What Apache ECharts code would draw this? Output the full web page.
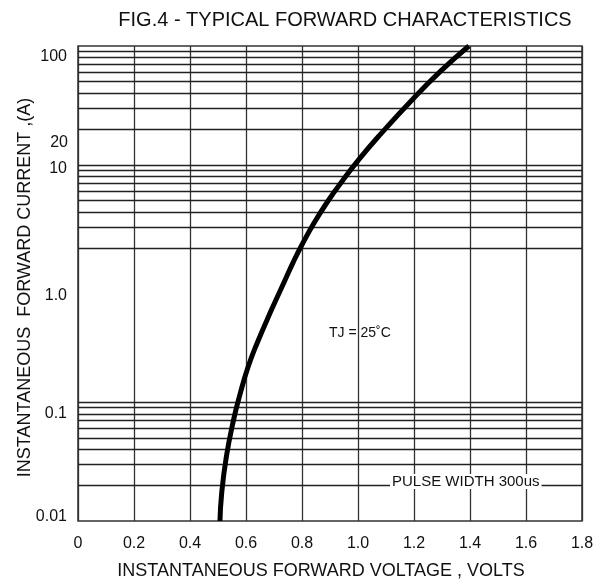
<!DOCTYPE html>
<html>
<head>
<meta charset="utf-8">
<script src="https://cdn.jsdelivr.net/npm/echarts@6/dist/echarts.min.js"></script>
<style>
html,body{margin:0;padding:0;background:#fff;}
#chart{width:598px;height:582px;}
</style>
</head>
<body>
<div id="chart"></div>
<script>
// ---- data ----
var titleText = 'FIG.4 - TYPICAL FORWARD CHARACTERISTICS';
var xAxisTitle = 'INSTANTANEOUS FORWARD VOLTAGE , VOLTS';
var yAxisTitle = 'INSTANTANEOUS  FORWARD CURRENT ,(A)';
var xTicks = [0, 0.2, 0.4, 0.6, 0.8, 1.0, 1.2, 1.4, 1.6, 1.8];
var yTickLabels = {'100': '100', '10': '10', '1': '1.0', '0.1': '0.1', '0.01': '0.01'};
var extraYLabels = [20];
// horizontal grid lines visible in the reference
var hGridLines = [90, 80, 70, 60, 50, 40, 30, 20, 10,
                  9, 8, 7, 6, 5, 4, 3, 2,
                  0.1, 0.09, 0.08, 0.07, 0.06, 0.05, 0.04, 0.03, 0.02];
// curve: forward voltage (V) vs forward current (A)
var voltage = [0.507, 0.513, 0.530, 0.555, 0.580, 0.608, 0.641, 0.691, 0.738, 0.768, 0.799, 0.844, 0.894, 0.946, 1.002, 1.075, 1.197, 1.297, 1.396];
var current = [0.01, 0.017, 0.035, 0.07, 0.12, 0.2, 0.32, 0.6, 1.05, 1.5, 2.1, 3.26, 5.0, 7.4, 11, 17.5, 36, 62, 100];
var tjNote = 'TJ = 25\u02DAC';
var pulseNote = 'PULSE WIDTH 300us';

// ---- chart ----
var FONT = '"Liberation Sans", Arial, sans-serif';
var TXT = '#111';
var curveData = voltage.map(function (v, i) { return [v, current[i]]; });

// per-label vertical nudges (style only)
var labelShift = {'100': 'a', '10': 'b', '1': 'c', '0.1': 'd', '0.01': 'e'};
var richBase = {fontSize: 16, color: TXT, fontFamily: FONT};
function rs(pad) { return Object.assign({padding: pad}, richBase); }

var markLineData = hGridLines.map(function (v) {
  var isLab = extraYLabels.indexOf(v) >= 0;
  return {
    yAxis: v,
    label: isLab ? {
      show: true, position: 'start', formatter: String(v), distance: 10,
      fontSize: 16, color: TXT, fontFamily: FONT, offset: [0, 14]
    } : {show: false}
  };
});

var chart = echarts.init(document.getElementById('chart'), null, {renderer: 'canvas'});
chart.setOption({
  animation: false,
  backgroundColor: '#fff',
  title: {
    text: titleText, left: 340, top: 5, textAlign: 'center',
    textStyle: {fontSize: 20, fontWeight: 'normal', color: TXT, fontFamily: FONT}
  },
  grid: {
    left: 78, right: 16, top: 46, bottom: 61,
    show: true, borderColor: '#333', borderWidth: 1.5,
    containLabel: false, outerBoundsMode: 'none'
  },
  xAxis: {
    type: 'value', min: 0, max: 1.8, interval: 0.2,
    name: xAxisTitle, nameLocation: 'middle', nameGap: 41, nameMoveOverlap: false,
    nameTextStyle: {fontSize: 18, color: TXT, fontFamily: FONT, padding: [0, 18, 0, 0]},
    axisLine: {show: false}, axisTick: {show: false},
    axisLabel: {
      fontSize: 16, color: TXT, fontFamily: FONT, margin: 15,
      formatter: function (v) { return v === 0 ? '0' : v.toFixed(1); }
    },
    splitLine: {show: true, lineStyle: {color: '#333', width: 1.3}}
  },
  yAxis: {
    type: 'log', logBase: 10, min: 0.01, max: 100, splitNumber: 4,
    name: yAxisTitle, nameLocation: 'middle', nameGap: 44, nameRotate: 90, nameMoveOverlap: false,
    nameTextStyle: {fontSize: 18, color: TXT, fontFamily: FONT, padding: [0, 8, 0, 0]},
    axisLine: {show: false}, axisTick: {show: false},
    splitLine: {show: false},
    axisLabel: {
      margin: 11, fontSize: 16, color: TXT, fontFamily: FONT,
      formatter: function (v) {
        var key = String(+v.toPrecision(6));
        var t = yTickLabels[key];
        if (!t) return '';
        return '{' + labelShift[key] + '|' + t + '}';
      },
      rich: {
        a: rs([22, 0, 0, 0]),
        b: rs([8, 0, 0, 0]),
        c: rs([24, 0, 0, 0]),
        d: rs([22, 0, 0, 0]),
        e: rs([0, 0, 8, 0])
      }
    }
  },
  graphic: [
    {type: 'text', left: 329, top: 326, z: 100,
     style: {text: tjNote, fontSize: 14, fill: TXT, fontFamily: FONT}},
    {type: 'text', left: 390, top: 474, z: 100,
     style: {text: pulseNote, fontSize: 15, fill: TXT, fontFamily: FONT,
             backgroundColor: '#fff', padding: [0, 2, 0, 2]}}
  ],
  series: [{
    type: 'line', data: curveData, smooth: true, showSymbol: false, symbol: 'none',
    lineStyle: {color: '#000', width: 5}, z: 5,
    markLine: {
      silent: true, symbol: ['none', 'none'], animation: false, z: 1,
      lineStyle: {color: '#222', width: 1.3, type: 'solid'},
      data: markLineData
    }
  }]
});
</script>
</body>
</html>
